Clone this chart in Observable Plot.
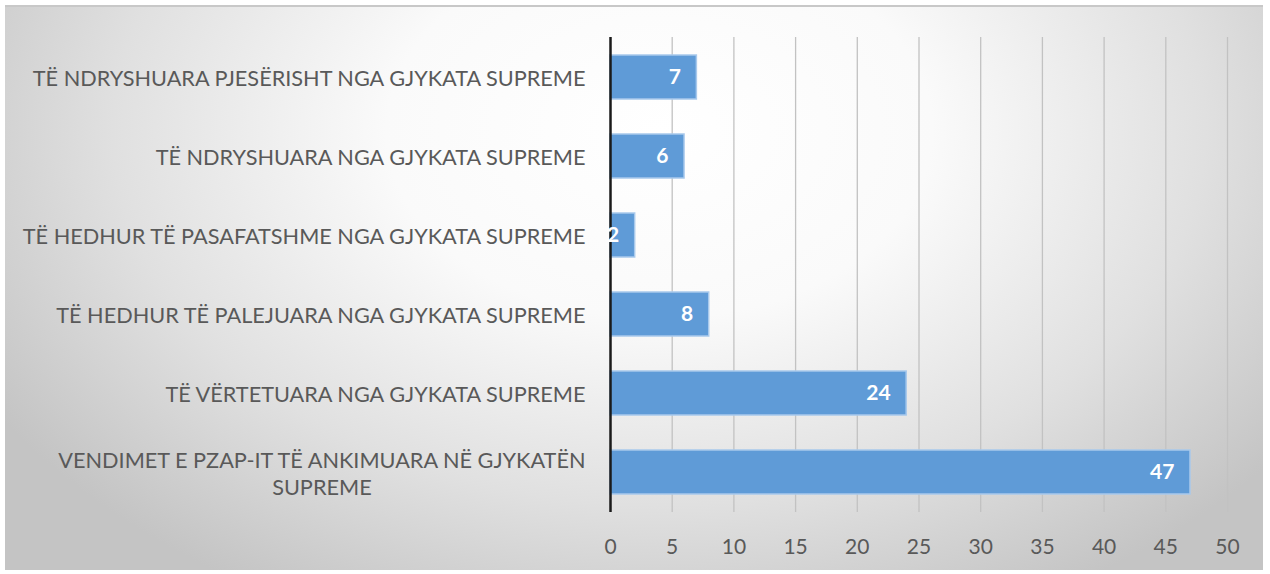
<!DOCTYPE html>
<html>
<head>
<meta charset="utf-8">
<script src="https://cdn.jsdelivr.net/npm/d3@7"></script>
<script src="https://cdn.jsdelivr.net/npm/@observablehq/plot@0.6"></script>
<style>
  html, body { margin: 0; padding: 0; background: #ffffff; }
  #wrap { position: relative; width: 1270px; height: 574px; overflow: hidden; }
  #bg {
    position: absolute; left: 5px; top: 5px; width: 1258px; height: 563px;
    border-top: 2px solid #c8c8c8;
    background: radial-gradient(ellipse 62% 95% at 52% 22%, #ffffff 0%, #fafafa 35%, #e0e0e0 70%, #c4c4c4 100%);
  }
  #chart { position: absolute; left: 0; top: 0; }
  #chart svg { background: transparent; }
</style>
</head>
<body>
<div id="wrap"><div id="bg"></div><div id="chart"></div></div>
<script>
const categories = [
  "TË NDRYSHUARA PJESËRISHT NGA GJYKATA SUPREME",
  "TË NDRYSHUARA NGA GJYKATA SUPREME",
  "TË HEDHUR TË PASAFATSHME NGA GJYKATA SUPREME",
  "TË HEDHUR TË PALEJUARA NGA GJYKATA SUPREME",
  "TË VËRTETUARA NGA GJYKATA SUPREME",
  "VENDIMET E PZAP-IT TË ANKIMUARA NË GJYKATËN SUPREME"
];
const values = [7, 6, 2, 8, 24, 47];
const xTicks = [0, 5, 10, 15, 20, 25, 30, 35, 40, 45, 50];
const labelLines = {
  "VENDIMET E PZAP-IT TË ANKIMUARA NË GJYKATËN SUPREME": "VENDIMET E PZAP-IT TË ANKIMUARA NË GJYKATËN\nSUPREME"
};

const data = categories.map((c, i) => ({category: c, value: values[i]}));
const font = "Lato, 'Open Sans', sans-serif";

const chart = Plot.plot({
  width: 1270,
  height: 574,
  marginLeft: 610,
  marginRight: 43,
  marginTop: 37,
  marginBottom: 62,
  style: {fontFamily: font, color: "#595959", background: "transparent"},
  x: {domain: [0, 50], ticks: xTicks},
  y: {domain: categories, paddingInner: 0.44, paddingOuter: 0.22, label: null},
  marks: [
    Plot.ruleX(xTicks.slice(1), {stroke: "#c2c2c2", strokeWidth: 1.3}),
    Plot.barX(data, {x: "value", y: "category", fill: "#5f9bd7", stroke: "#a8c9ec", strokeWidth: 1.5}),
    Plot.ruleX([0], {stroke: "#1a1a1a", strokeWidth: 2.5}),
    Plot.text(data, {x: "value", y: "category", text: d => String(d.value), textAnchor: "end", dx: -16,
      fill: "white", fontWeight: "bold", fontSize: 21}),
    Plot.axisX({ticks: xTicks, tickSize: 0, tickPadding: 27, label: null, fontSize: 21, fill: "#595959"}),
    Plot.axisY({tickSize: 0, tickPadding: 25, label: null, fontSize: 21.7, lineHeight: 1.28, fill: "#595959",
      tickFormat: d => labelLines[d] || d})
  ]
});
document.getElementById("chart").appendChild(chart);

// center the lines of a wrapped label block, keeping its right edge
chart.querySelectorAll("text").forEach(t => {
  const spans = t.querySelectorAll("tspan");
  if (spans.length > 1) {
    const w = t.getBBox().width;
    const x0 = +(t.getAttribute("x") || 0);
    t.setAttribute("text-anchor", "middle");
    spans.forEach(s => s.setAttribute("x", x0 - w / 2));
  }
});
</script>
</body>
</html>
